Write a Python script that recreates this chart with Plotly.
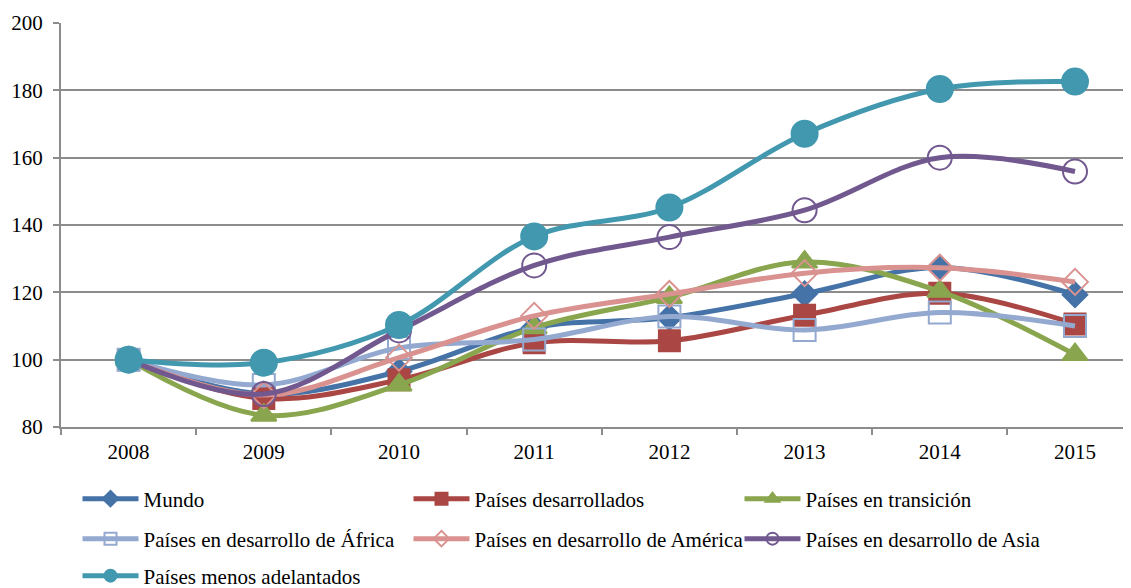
import plotly.graph_objects as go

years = ["2008", "2009", "2010", "2011", "2012", "2013", "2014", "2015"]
mundo = [100, 89.8, 96.5, 109.5, 112.5, 119.6, 127.4, 119.3]
desarrollados = [100, 88.5, 94, 105, 105.6, 113.2, 119.7, 110.6]
transicion = [100, 83.5, 92.5, 109.5, 118.5, 129, 120.3, 101.5]
africa = [100, 92.5, 103.5, 106, 112.8, 108.8, 114, 110]
america = [100, 89.5, 100.6, 113, 119.5, 125.7, 127.3, 123.1]
asia = [100, 89.8, 108.7, 128, 136.4, 144.4, 160, 155.9]
menos = [100, 99.1, 110.3, 136.6, 145.2, 167.1, 180.4, 182.6]

names = ["Mundo", "Países desarrollados", "Países en transición",
         "Países en desarrollo de África", "Países en desarrollo de América",
         "Países en desarrollo de Asia", "Países menos adelantados"]
series = [mundo, desarrollados, transicion, africa, america, asia, menos]
colors = ["#4572A7", "#AA4643", "#89A54E", "#93A9CF", "#D9928F", "#71588F", "#4198AF"]
symbols = ["diamond", "square", "triangle-up", "square-open", "diamond-open", "circle-open", "circle"]
sizes = [19, 21, 22, 22, 20, 24, 26]
legend_ids = ["legend", "legend", "legend", "legend2", "legend2", "legend2", "legend3"]

xs = list(range(len(years)))

fig = go.Figure()
for name, vals, c, sym, sz, lg in zip(names, series, colors, symbols, sizes, legend_ids):
    fig.add_trace(go.Scatter(
        x=xs, y=vals, name=name, mode="lines+markers",
        line=dict(color=c, width=5, shape="spline", smoothing=1),
        marker=dict(symbol=sym, size=sz, color=c,
                    line=dict(color=c, width=2)),
        legend=lg,
    ))

font = dict(family="Liberation Serif, Times New Roman, serif", size=21, color="#000000")
grid = "#8C8C8C"

# page offset of the figure (default body margin) is 8px
W, H = 1123, 580
L, T, B = 53, 15, 161
PLOT_W = W - L
PLOT_H = H - T - B

leg_common = dict(orientation="h", xanchor="left", yanchor="middle",
                  entrywidth=260, entrywidthmode="pixels", itemwidth=56,
                  itemsizing="constant",
                  font=font, bgcolor="rgba(0,0,0,0)", itemclick=False)
lx = (69.5 - L) / PLOT_W

def ly(page_y):
    fy = page_y - 8
    return (T + PLOT_H - fy) / PLOT_H

fig.update_layout(
    width=W, height=H,
    margin=dict(l=L, r=0, t=T, b=B, autoexpand=False),
    paper_bgcolor="white", plot_bgcolor="white",
    font=font,
    showlegend=True,
    legend=dict(x=lx, y=ly(499), **leg_common),
    legend2=dict(x=lx, y=ly(539), **leg_common),
    legend3=dict(x=lx, y=ly(576), **leg_common),
    xaxis=dict(
        range=[-0.5, -0.5 + PLOT_W / 135.2], tickmode="array", tickvals=xs, ticktext=years,
        ticks="", showgrid=False, zeroline=False, automargin=False,
        showline=True, linecolor=grid, linewidth=2,
        tickfont=font, ticklabelstandoff=5,
        minor=dict(tickmode="array", tickvals=[i + 0.5 for i in range(-1, 8)],
                   ticks="outside", ticklen=6, tickcolor=grid, tickwidth=2, showgrid=False),
    ),
    yaxis=dict(
        range=[80, 200], tickmode="linear", tick0=80, dtick=20,
        showgrid=True, gridcolor=grid, gridwidth=2, zeroline=False, automargin=False,
        showline=True, linecolor=grid, linewidth=2,
        ticks="outside", ticklen=6, tickcolor=grid, tickwidth=2,
        tickfont=font, ticklabelstandoff=6,
    ),
)

fig.write_html("out.html")
